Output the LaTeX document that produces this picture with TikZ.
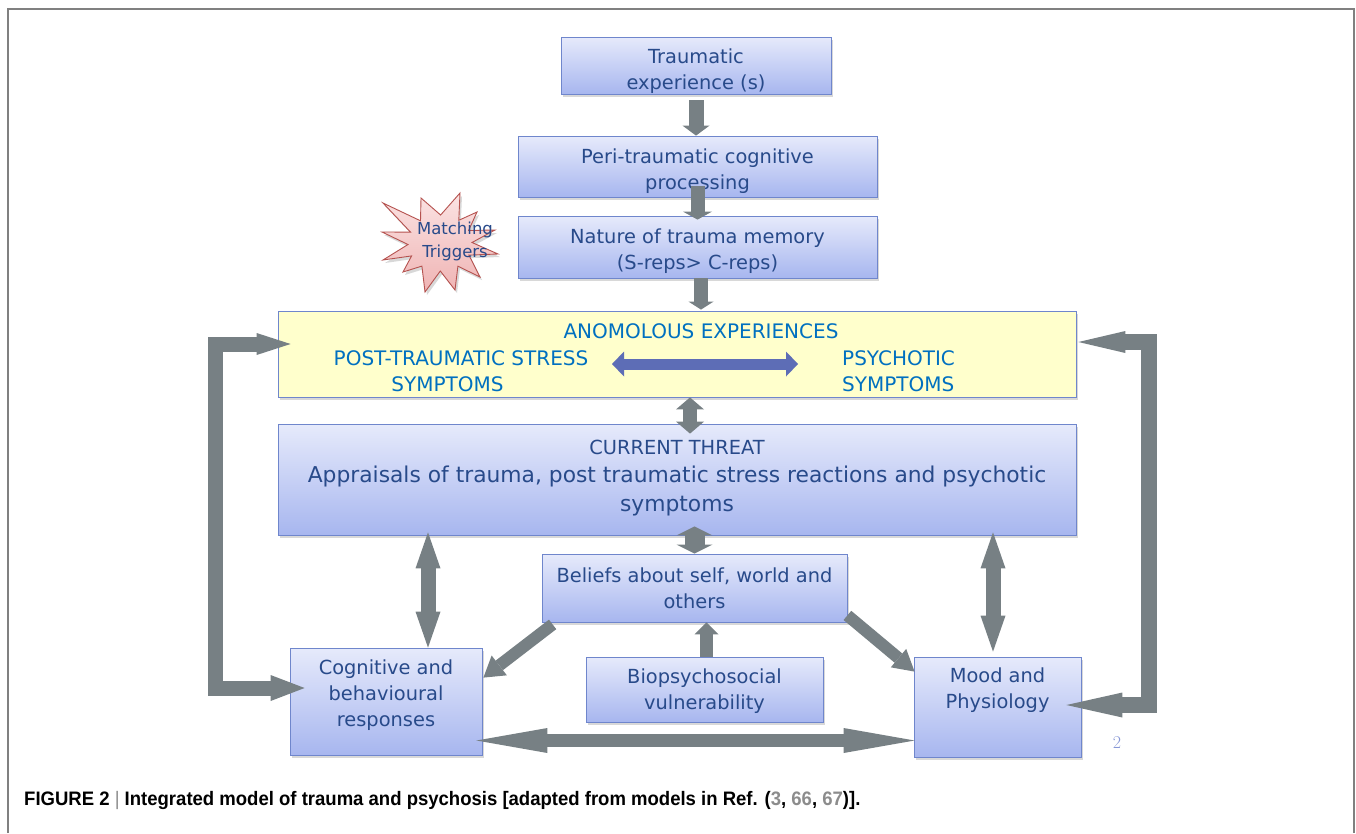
\documentclass[tikz,border=0pt]{standalone}
\usepackage{fontspec}
\setmainfont{DejaVu Sans}
\newfontfamily\capfont[FakeStretch=0.95]{Liberation Sans}
\newfontfamily\lmrfont{Latin Modern Roman}
\usetikzlibrary{arrows.meta,shadows,calc}
\definecolor{btop}{HTML}{E6EAFB}
\definecolor{bbot}{HTML}{A7B6EF}
\definecolor{bdr}{HTML}{6F86CC}
\definecolor{btxt}{HTML}{284A8A}
\definecolor{ylw}{HTML}{FFFFCC}
\definecolor{ytxt}{HTML}{0070C0}
\definecolor{agray}{HTML}{778084}
\definecolor{ablue}{HTML}{5D6DB6}
\definecolor{stop}{HTML}{FBE3E3}
\definecolor{sbot}{HTML}{EFB4B4}
\definecolor{sdr}{HTML}{B5524F}
\definecolor{frm}{HTML}{808080}
\definecolor{capg}{HTML}{8C8C8C}
\definecolor{numc}{HTML}{8797D6}
\tikzset{
  shad/.style={drop shadow={shadow xshift=2pt, shadow yshift=-3pt, opacity=0.3}},
  bluebox/.style={draw=bdr, line width=0.8pt, top color=btop, bottom color=bbot,
    text=btxt, align=center, inner sep=0pt, font=\fontsize{19.4}{26}\selectfont, shad},
  btext/.style={text=btxt, align=center, inner sep=0pt, font=\fontsize{19.4}{26}\selectfont},
  ytext/.style={text=ytxt, align=center, inner sep=0pt, font=\fontsize{20}{26}\selectfont},
  garrow/.style={draw=agray, line width=#1},
}
\begin{document}
\begin{tikzpicture}[x=1pt,y=-1pt,line join=miter]
\useasboundingbox (0,0) rectangle (1356,833);
\fill[white] (0,0) rectangle (1356,833);
% frame
\draw[frm, line width=2pt] (8,833) -- (8,9) -- (1354,9) -- (1354,833);

% boxes
\node[bluebox, minimum width=270pt, minimum height=57pt] (trauma) at (696,65.5) {};
\node[btext] (traumat) at (696,71.5) {Traumatic\\experience (s)};
\node[bluebox, minimum width=359pt, minimum height=61pt] (peri) at (697.5,166.5) {};
\node[btext] (perit) at (697.5,171) {Peri-traumatic cognitive\\processing};
\node[bluebox, minimum width=359pt, minimum height=62pt] (nature) at (697.5,247) {};
\node[btext] (naturet) at (697.5,251.5) {Nature of trauma memory\\(S-reps> C-reps)};

% starburst
\path[draw=sdr, line width=0.9pt, top color=stop, bottom color=sbot, shad]
  (498,254) -- (468.9,255.1) -- (480,277) -- (457.9,266.2) -- (455,290) -- (440.3,271)
  -- (425,292) -- (421.9,266.1) -- (403,272) -- (411.6,255.9) -- (383,260) -- (408,244.5)
  -- (382,232) -- (410.5,232.1) -- (383,203) -- (420.5,220.8) -- (421,198) -- (440.6,215)
  -- (460,193) -- (458.8,220.3) -- (477,212) -- (468.6,230.5) -- (495,230) -- (472,242.5) -- cycle;
\node[text=btxt, align=center, inner sep=0pt, font=\fontsize{16.5}{23}\selectfont] (trig) at (455,241) {Matching\\Triggers};

% anomalous experiences
\node[draw=bdr, line width=0.8pt, fill=ylw, minimum width=798pt, minimum height=86pt, inner sep=0pt, shad] (anom) at (677,354) {};
\node[ytext] (anomt) at (701,331) {ANOMOLOUS EXPERIENCES};
\node[ytext] (ptss) at (461,371) {POST-TRAUMATIC STRESS\\SYMPTOMS\hspace*{27pt}};
\node[ytext, anchor=west, align=left] (psy) at (842,371) {PSYCHOTIC\\SYMPTOMS};
\coordinate (bl) at (612,364);
\coordinate (br) at (798,364);
\draw[draw=ablue, line width=11pt, {Triangle[length=12pt,width=25pt,line width=0pt]}-{Triangle[length=12pt,width=25pt,line width=0pt]}] (bl) -- (br);

% current threat
\node[bluebox, minimum width=798pt, minimum height=111pt] (threat) at (677,479.5) {};
\node[btext] (ct) at (677,447) {CURRENT THREAT};
\node[btext, font=\fontsize{21.8}{29}\selectfont] (app) at (677,491) {Appraisals of trauma, post traumatic stress reactions and psychotic\\symptoms};

% lower boxes
\node[bluebox, minimum width=305pt, minimum height=68pt] (beliefs) at (694.5,588) {Beliefs about self, world and\\others};
\node[bluebox, minimum width=192pt, minimum height=107pt] (cog) at (386,701.5) {};
\node[btext] (cogt) at (386,695) {Cognitive and\\behavioural\\responses};
\node[bluebox, minimum width=237pt, minimum height=65pt] (bio) at (704.5,689.5) {};
\node[btext] (biot) at (704.5,691.5) {Biopsychosocial\\vulnerability};
\node[bluebox, minimum width=167pt, minimum height=100pt] (mood) at (997.5,707) {};
\node[btext] (moodt) at (997.5,690) {Mood and\\Physiology};

% vertical chain arrows
\draw[garrow=15pt, -{Triangle[length=10pt,width=27pt,line width=0pt]}] ([yshift=-6pt]trauma.south) -- (trauma.south |- peri.north);
\draw[garrow=14pt, -{Triangle[length=8pt,width=29pt,line width=0pt]}] ([yshift=11pt]peri.south) -- ([yshift=-4pt]nature.north);
\draw[garrow=14pt, -{Triangle[length=8pt,width=25pt,line width=0pt]}] ([xshift=3.5pt]nature.south) -- ($(anom.north -| nature.south)+(3.5,-1)$);

% double arrows
\draw[garrow=14pt, {Triangle[length=12pt,width=28pt,line width=0pt]}-{Triangle[length=12pt,width=28pt,line width=0pt]}] ([xshift=13pt]anom.south) -- ([xshift=13pt,yshift=-10pt]threat.north);
\draw[garrow=20pt, {Triangle[length=9pt,width=36pt,line width=0pt]}-{Triangle[length=9pt,width=36pt,line width=0pt]}] ($(threat.south -| beliefs.north)+(0,-9)$) -- (beliefs.north);
\draw[garrow=15pt, {Triangle[length=36pt,width=25pt,line width=0pt]}-{Triangle[length=36pt,width=25pt,line width=0pt]}] ($(428,0 |- threat.south)+(0,-3)$) -- (428,0 |- cog.north);
\draw[garrow=15pt, {Triangle[length=36pt,width=25pt,line width=0pt]}-{Triangle[length=36pt,width=25pt,line width=0pt]}] ($(993,0 |- threat.south)+(0,-3)$) -- ($(993,0 |- mood.north)+(0,-5)$);
\draw[garrow=13pt, -{Triangle[length=12pt,width=24pt,line width=0pt]}] (706.5,0 |- bio.north) -- (706.5,0 |- beliefs.south);

% diagonals
\draw[garrow=12pt, -{Triangle[length=20pt,width=25pt,line width=0pt]}] ($(beliefs.south west)+(11,2)$) -- ($(cog.north east)+(1,30)$);
\draw[garrow=12pt, -{Triangle[length=21pt,width=24pt,line width=0pt]}] ($(beliefs.south east)+(0,-7)$) -- ($(mood.north west)+(1,15)$);

% bottom horizontal
\draw[garrow=13pt, {Triangle[length=71pt,width=25pt,line width=0pt]}-{Triangle[length=71pt,width=25pt,line width=0pt]}] ($(cog.east |- 0,740.5)+(-6,0)$) -- ($(mood.west |- 0,740.5)+(1,0)$);

% feedback loops
\draw[garrow=15pt, {Triangle[length=34pt,width=22pt,line width=0pt]}-{Triangle[length=34pt,width=26pt,line width=0pt]}]
  ($(anom.west |- 0,344)+(13,0)$) -| (215.5,688) -- ($(cog.west |- 0,688)+(15,0)$);
\draw[garrow=16pt, {Triangle[length=47pt,width=22pt,line width=0pt]}-{Triangle[length=56pt,width=25pt,line width=0pt]}]
  ($(anom.east |- 0,342)+(2,0)$) -| (1148.5,705) -- ($(mood.east |- 0,705)+(-15,0)$);

% page number
\node[text=numc, inner sep=0pt, font=\lmrfont\fontsize{18}{20}\selectfont] (pg) at (1117,743) {2};

% caption
\node[anchor=base west, inner sep=0pt, font=\capfont\bfseries\fontsize{19.5}{22}\selectfont] (cap) at (24,805)
  {FIGURE 2 {\mdseries\color{capg}|} Integrated model of trauma and psychosis [adapted from models in Ref. (\textcolor{capg}{3}, \textcolor{capg}{66}, \textcolor{capg}{67})].};
\end{tikzpicture}
\end{document}
